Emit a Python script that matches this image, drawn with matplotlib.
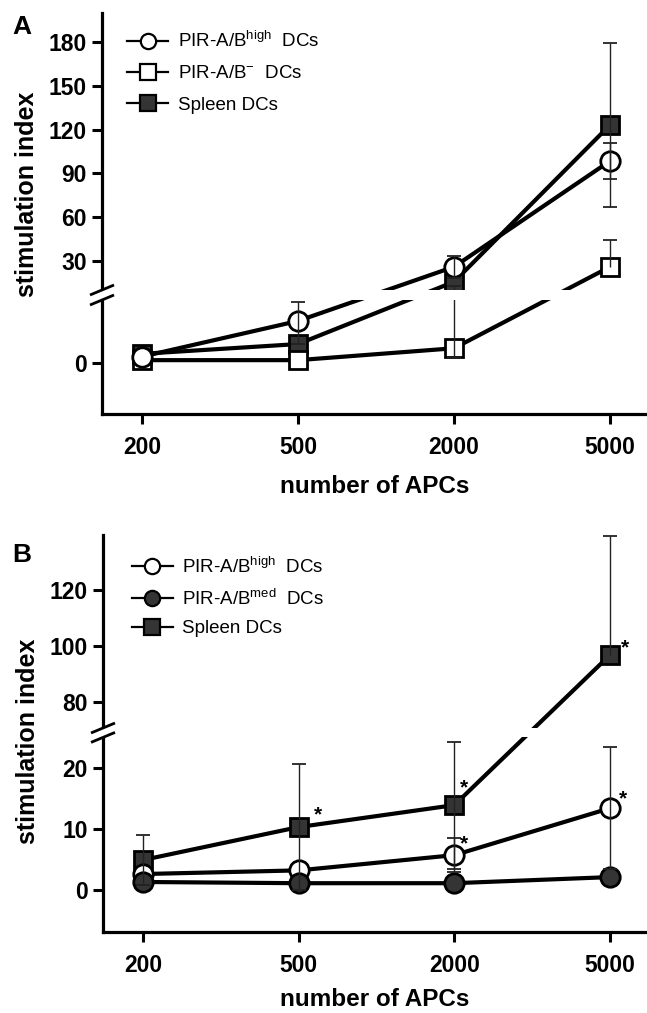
import numpy as np
import matplotlib
matplotlib.use('Agg')
import matplotlib.pyplot as plt
from matplotlib.lines import Line2D

plt.rcParams['font.family'] = ['Liberation Sans', 'DejaVu Sans']
plt.rcParams['mathtext.default'] = 'regular'

# ---- data ----
apcs = ['200', '500', '2000', '5000']

# panel A
a_high = [0.9, 6.0, 25.9, 98.5]
a_high_lo = [0, 3.3, 7.5, 12.6]
a_high_hi = [0, 2.7, 7.5, 12.6]
a_neg = [0.4, 0.4, 2.1, 25.9]
a_neg_lo = [0, 0, 1.4, 0]
a_neg_hi = [0, 0, 10.9, 18.5]
a_spl = [1.3, 2.7, 15.6, 123.2]
a_spl_lo = [0, 0, 0, 56.5]
a_spl_hi = [0, 0, 0, 56.5]
a_yticks = [0, 30, 60, 90, 120, 150, 180]

# panel B
b_high = [2.6, 3.2, 5.7, 13.4]
b_high_lo = [0, 0, 2.8, 10.0]
b_high_hi = [0, 0, 2.8, 10.0]
b_med = [1.3, 1.1, 1.1, 2.1]
b_spl = [4.9, 10.3, 13.9, 96.8]
b_spl_lo = [4.1, 10.3, 10.4, 0]
b_spl_hi = [4.1, 10.3, 10.4, 42.5]
b_yticks = [0, 10, 20, 80, 100, 120]

# ---- layout ----
DARK = '#343434'
W, H = 647, 1013


def broken_scale(vals, pix):
    vals = np.asarray(vals, float)
    pix = np.asarray(pix, float)
    s0 = (pix[1] - pix[0]) / (vals[1] - vals[0])
    s1 = (pix[-1] - pix[-2]) / (vals[-1] - vals[-2])

    def fwd(v):
        v = np.asarray(v, float)
        out = np.interp(v, vals, pix)
        out = np.where(v < vals[0], pix[0] + (v - vals[0]) * s0, out)
        out = np.where(v > vals[-1], pix[-1] + (v - vals[-1]) * s1, out)
        return out

    def inv(p):
        p = np.asarray(p, float)
        out = np.interp(p, pix, vals)
        out = np.where(p < pix[0], vals[0] + (p - pix[0]) / s0, out)
        out = np.where(p > pix[-1], vals[-1] + (p - pix[-1]) / s1, out)
        return out
    return fwd, inv


def setup_axes(rect, vals, pix, yticks):
    ax = fig.add_axes(rect)
    fwd, inv = broken_scale(vals, pix)
    ax.set_yscale('function', functions=(fwd, inv))
    ax.set_ylim(vals[0], vals[-1])
    ax.set_xlim(-0.256, 3.237)
    for s in ['top', 'right']:
        ax.spines[s].set_visible(False)
    for s in ['left', 'bottom']:
        ax.spines[s].set_linewidth(2.3)
    ax.tick_params(axis='both', direction='out', length=7.5, width=2.2)
    ax.tick_params(axis='y', pad=3.5)
    ax.tick_params(axis='x', pad=8)
    ax.set_xticks(range(len(apcs)), labels=apcs, fontsize=16.5, fontweight='bold')
    ax.set_yticks(yticks, labels=[str(t) for t in yticks], fontsize=16.5, fontweight='bold')
    ax.minorticks_off()

    # white band across the break, plus the // marks
    ax.axhspan(vals[1], vals[2], xmin=-0.04, xmax=1.0, facecolor='white',
               edgecolor='none', zorder=5, clip_on=False)
    hpx = rect[3] * H
    wpx = rect[2] * W
    for v in (vals[1], vals[2]):
        yf = (fwd(v) - pix[0]) / (pix[-1] - pix[0])
        ax.plot([-12 / wpx, 12 / wpx], [yf - 5 / hpx, yf + 5 / hpx], transform=ax.transAxes,
                color='k', lw=2.0, clip_on=False, zorder=6, solid_capstyle='butt')
    return ax


def series(ax, y, marker, face, ms, z):
    ax.plot(range(len(y)), y, '-', marker=marker, color='k', lw=3, ms=ms,
            mfc=face, mec='k', mew=2, zorder=z)


def errors(ax, y, lo, hi):
    x = np.arange(len(y))
    y = np.asarray(y, float)
    lo = np.asarray(lo, float)
    hi = np.asarray(hi, float)
    ax.errorbar(x, y, yerr=[lo, hi], fmt='none', ecolor='#222222', elinewidth=1.0,
                capsize=0, zorder=4)
    ax.plot(x[hi > 0], (y + hi)[hi > 0], ls='none', marker='_', ms=10.5, mew=1.3,
            color='#222222', zorder=4)
    ax.plot(x[lo > 0], (y - lo)[lo > 0], ls='none', marker='_', ms=10.5, mew=1.3,
            color='#222222', zorder=4)


def legend(ax, handles, labels, anchor, spacing):
    ax.legend(handles, labels, loc='upper left', bbox_to_anchor=anchor, frameon=False,
              fontsize=13.5, handlelength=2.2, handletextpad=0.5, labelspacing=spacing,
              borderaxespad=0, borderpad=0)


def h(marker, face):
    return Line2D([], [], color='k', lw=1.6, marker=marker, ms=11, mfc=face,
                  mec='k', mew=1.6)


fig = plt.figure(figsize=(W / 100, H / 100), dpi=100)

# ---------------- panel A ----------------
rectA = [102 / W, 1 - 414 / H, 545 / W, 401 / H]
axA = setup_axes(rectA, [-7.3, 9, 10, 200], [0, 114, 124, 401], a_yticks)
series(axA, a_spl, 's', DARK, 13, 3.0)
series(axA, a_neg, 's', 'white', 13, 3.1)
series(axA, a_high, 'o', 'white', 14, 3.2)
errors(axA, a_spl, a_spl_lo, a_spl_hi)
errors(axA, a_neg, a_neg_lo, a_neg_hi)
errors(axA, a_high, a_high_lo, a_high_hi)
legend(axA, [h('o', 'white'), h('s', 'white'), h('s', DARK)],
       ['PIR-A/B$^{high}$  DCs', 'PIR-A/B$^{-}$  DCs', 'Spleen DCs'], (0.046, 0.955), 0.75)
axA.set_xlabel('number of APCs', fontsize=17.5, fontweight='bold', va='center')
axA.xaxis.set_label_coords(0.5, -0.182)
axA.set_ylabel('stimulation index', fontsize=18, fontweight='bold', va='center')
axA.yaxis.set_label_coords(-0.1385, 0.549)
fig.text(22 / W, 1 - 26.5 / H, 'A', fontsize=19, fontweight='bold', ha='center', va='center')

# ---------------- panel B ----------------
rectB = [103 / W, 1 - 932 / H, 544 / W, 397 / H]
axB = setup_axes(rectB, [-6.9, 25, 70.7, 139.6], [0, 194.6, 204, 397], b_yticks)
series(axB, b_spl, 's', DARK, 13, 3.0)
series(axB, b_high, 'o', 'white', 14, 3.1)
series(axB, b_med, 'o', DARK, 14, 3.2)
errors(axB, b_spl, b_spl_lo, b_spl_hi)
errors(axB, b_high, b_high_lo, b_high_hi)

stars = [(b_spl, 1, 19, 12), (b_spl, 2, 10, 17), (b_high, 2, 10, 11),
         (b_high, 3, 13, 9), (b_spl, 3, 15, 7)]
for y, i, dx, dy in stars:
    axB.annotate('*', xy=(i, y[i]), xytext=(dx, dy), textcoords='offset pixels',
                 ha='center', va='center', fontsize=15, fontweight='bold', zorder=7)

legend(axB, [h('o', 'white'), h('o', DARK), h('s', DARK)],
       ['PIR-A/B$^{high}$  DCs', 'PIR-A/B$^{med}$  DCs', 'Spleen DCs'], (0.053, 0.945), 0.62)
axB.set_xlabel('number of APCs', fontsize=17.5, fontweight='bold', va='center')
axB.xaxis.set_label_coords(0.5, -0.171)
axB.set_ylabel('stimulation index', fontsize=18, fontweight='bold', va='center')
axB.yaxis.set_label_coords(-0.137, 0.481)
fig.text(22 / W, 1 - 554.5 / H, 'B', fontsize=19, fontweight='bold', ha='center', va='center')

fig.savefig('out.png', dpi=100)
